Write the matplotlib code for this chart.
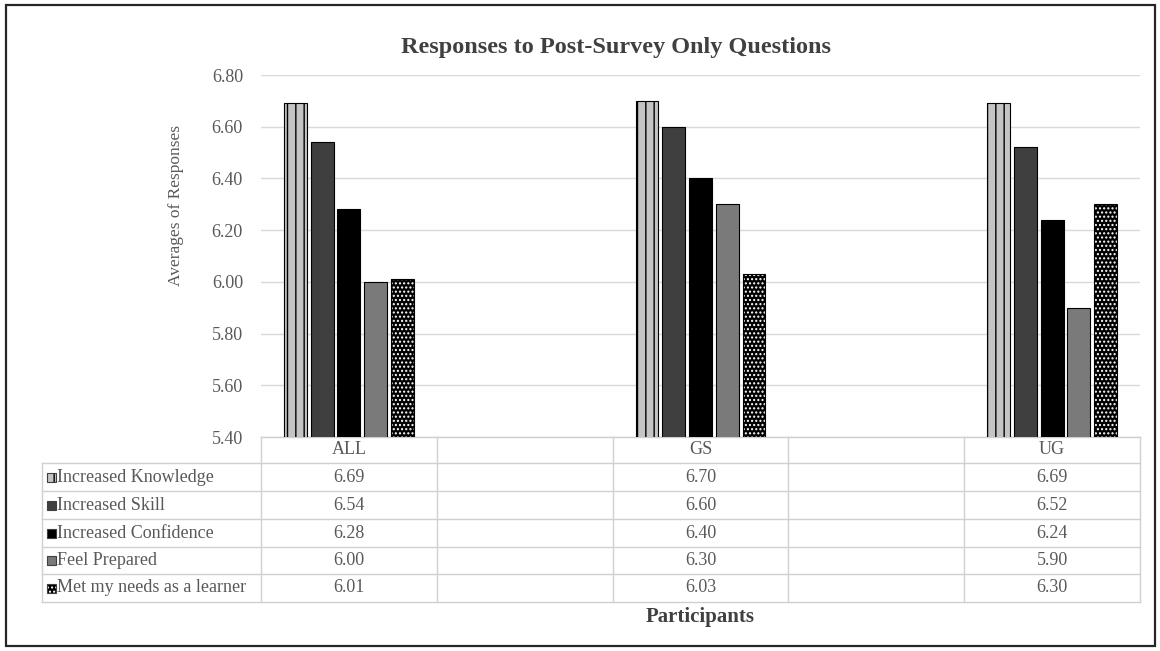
import numpy as np
import matplotlib
matplotlib.use("Agg")
import matplotlib.pyplot as plt
from matplotlib.patches import Rectangle
from matplotlib.lines import Line2D
from matplotlib.transforms import blended_transform_factory

plt.rcParams['font.family'] = ['Liberation Serif', 'DejaVu Serif']
plt.rcParams['hatch.linewidth'] = 1.0

# data
categories = ['ALL', '', 'GS', '', 'UG']
series = ['Increased Knowledge', 'Increased Skill', 'Increased Confidence',
          'Feel Prepared', 'Met my needs as a learner']
knowledge = [6.69, np.nan, 6.70, np.nan, 6.69]
skill = [6.54, np.nan, 6.60, np.nan, 6.52]
confidence = [6.28, np.nan, 6.40, np.nan, 6.24]
prepared = [6.00, np.nan, 6.30, np.nan, 5.90]
needs = [6.01, np.nan, 6.03, np.nan, 6.30]
values = [knowledge, skill, confidence, prepared, needs]
yticks = [5.40, 5.60, 5.80, 6.00, 6.20, 6.40, 6.60, 6.80]

# styles: face, hatch, hatch colour
styles = [
    ('#c4c4c4', '||', 'black'),
    ('#3f3f3f', None, None),
    ('#000000', None, None),
    ('#7a7a7a', None, None),
    ('#000000', '....', 'white'),
]

W, H = 1160, 651
fig = plt.figure(figsize=(W / 100, H / 100), dpi=100)

def fx(px):
    return px / W

def fy(py):
    return 1 - py / H

ax = fig.add_axes([fx(261), fy(437), fx(1140) - fx(261), fy(75) - fy(437)])

x = np.arange(len(categories))
bw = 0.13
pitch = 0.152
for i, (vals, (fc, hatch, hc)) in enumerate(zip(values, styles)):
    pos = x + (i - 2) * pitch
    if hatch is None:
        ax.bar(pos, vals, bw, color=fc, edgecolor='black', linewidth=0.8, zorder=3)
    else:
        ax.bar(pos, vals, bw, color=fc, edgecolor=hc, hatch=hatch, linewidth=0, zorder=3)
        ax.bar(pos, vals, bw, fill=False, edgecolor='black', linewidth=0.8, zorder=4)

ax.set_xlim(-0.5, len(categories) - 0.5)
ax.set_ylim(5.40, 6.80)
ax.set_yticks(yticks)
ax.set_yticklabels([f'{t:.2f}' for t in yticks], color='#595959', fontsize=13)
ax.tick_params(axis='y', length=0, pad=13)
ax.set_xticks([])
ax.yaxis.grid(True, color='#d9d9d9', linewidth=1, zorder=0)
for s in ax.spines.values():
    s.set_visible(False)

fig.text(fx(616), fy(47), 'Responses to Post-Survey Only Questions', ha='center', va='center',
         fontsize=17.5, fontweight='bold', color='#404040')
fig.text(fx(176), fy(206), 'Averages of Responses', rotation=90, ha='center', va='center',
         fontsize=12.5, color='#595959')
fig.text(fx(700), fy(617), 'Participants', ha='center', va='center',
         fontsize=15, fontweight='bold', color='#404040')

# data table under the axes
tr = blended_transform_factory(ax.transData, fig.transFigure)
grid_c = '#d0d0d0'
row_y = [437, 463, 491, 519, 547, 574, 602]
x_left_leg = -0.5 - (261 - 42) / 176
edges = np.arange(len(categories) + 1) - 0.5

# horizontal lines
ax.add_line(Line2D([edges[0], edges[-1]], [fy(row_y[0])] * 2, transform=tr, color=grid_c,
                   lw=1, clip_on=False))
for ry in row_y[1:]:
    ax.add_line(Line2D([x_left_leg, edges[-1]], [fy(ry)] * 2, transform=tr, color=grid_c,
                       lw=1, clip_on=False))
# vertical lines
for ex in edges:
    ax.add_line(Line2D([ex, ex], [fy(row_y[0]), fy(row_y[-1])], transform=tr, color=grid_c,
                       lw=1, clip_on=False))
ax.add_line(Line2D([x_left_leg, x_left_leg], [fy(row_y[1]), fy(row_y[-1])], transform=tr,
                   color=grid_c, lw=1, clip_on=False))

# header
hy = fy((row_y[0] + row_y[1]) / 2)
for xi, c in zip(x, categories):
    ax.text(xi, hy, c, transform=tr, ha='center', va='center', fontsize=13, color='#595959')

# rows
for r, (name, vals, (fc, hatch, hc)) in enumerate(zip(series, values, styles)):
    cy = (row_y[r + 1] + row_y[r + 2]) / 2
    for xi, v in zip(x, vals):
        if not np.isnan(v):
            ax.text(xi, fy(cy), f'{v:.2f}', transform=tr, ha='center', va='center',
                    fontsize=13, color='#595959')
    k = 9
    if hatch is None:
        fig.add_artist(Rectangle((fx(47), fy(cy + k / 2)), fx(k), k / H, facecolor=fc,
                                 edgecolor='#404040', lw=0.8, transform=fig.transFigure))
    else:
        fig.add_artist(Rectangle((fx(47), fy(cy + k / 2)), fx(k), k / H, facecolor=fc,
                                 edgecolor=hc, hatch=hatch, lw=0, transform=fig.transFigure))
        fig.add_artist(Rectangle((fx(47), fy(cy + k / 2)), fx(k), k / H, fill=False,
                                 edgecolor='#404040', lw=0.8, transform=fig.transFigure))
    fig.text(fx(57), fy(cy), name, ha='left', va='center', fontsize=13, color='#595959')

# outer chart border
fig.add_artist(Rectangle((fx(6), fy(646)), fx(1149), 641 / H, fill=False,
                         edgecolor='#262626', lw=1.6, transform=fig.transFigure))

fig.savefig('out.png', dpi=100)
